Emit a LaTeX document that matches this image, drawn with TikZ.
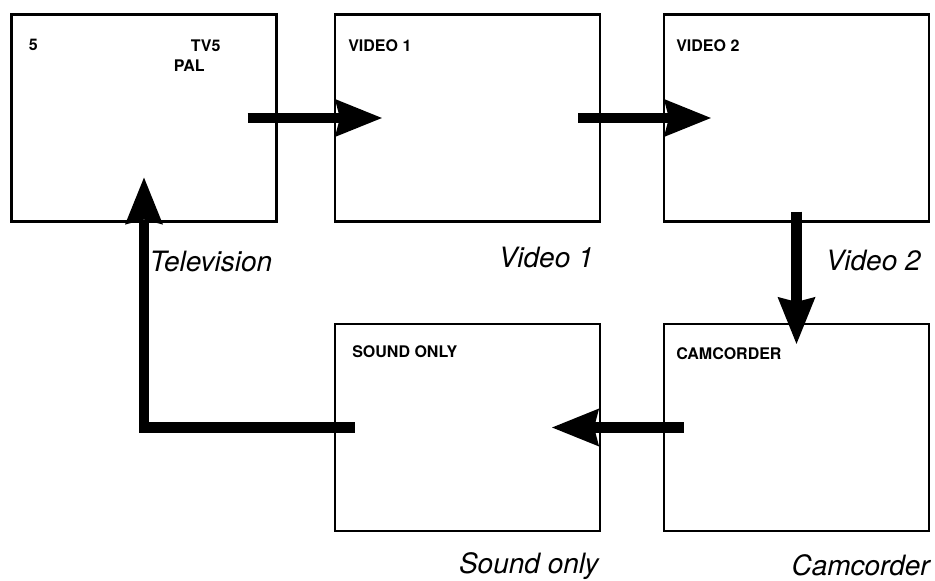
\documentclass[tikz,border=0pt]{standalone}
\usepackage{fontspec}
\setmainfont{TeX Gyre Heros}
\usetikzlibrary{arrows.meta}

\tikzset{
  screen/.style={draw, line width=1.1pt, minimum width=132.5pt, minimum height=103.5pt, inner sep=0pt},
  osd/.style={font=\bfseries\fontsize{8}{9}\selectfont, inner sep=0pt, anchor=west},
  caption/.style={font=\itshape\fontsize{14}{16}\selectfont, inner sep=0pt, anchor=east},
  feed/.style={line width=5.25pt, line join=miter,
    -{Stealth[length=23.5pt, width=19pt, inset=2.5pt, line width=0pt]}},
}

\begin{document}
\begin{tikzpicture}[x=0.5pt,y=-0.5pt]
  \useasboundingbox (0,0) rectangle (935,581);

  % the five screens
  \node[screen] (tel)   at (144,118)     {};
  \node[screen] (vid1)  at (467.5,118)   {};
  \node[screen] (vid2)  at (796.5,118)   {};
  \node[screen] (sound) at (467.5,427.5) {};
  \node[screen] (cam)   at (796.5,427.5) {};

  % on-screen texts
  \node[osd] (telnum) at ([shift={(18,32)}]tel.north west)  {5};
  \node[osd] (teltv)  at ([shift={(180,32)}]tel.north west) {TV5};
  \node[osd] (telpal) at ([shift={(163,52)}]tel.north west) {PAL};
  \node[osd] (vidonetext) at ([shift={(14,32)}]vid1.north west) {VIDEO 1};
  \node[osd] (vidtwotext) at ([shift={(13,32)}]vid2.north west) {VIDEO 2};
  \node[osd] (soundtext)  at ([shift={(18,29)}]sound.north west) {SOUND ONLY};
  \node[osd] (camtext)    at ([shift={(13,31)}]cam.north west)   {CAMCORDER};

  % captions
  \node[caption] (telcap)   at ([shift={(-5,39)}]tel.south east)   {Television};
  \node[caption] (vidonecap) at ([shift={(-7,35)}]vid1.south east) {Video 1};
  \node[caption] (vidtwocap) at ([shift={(-9,38)}]vid2.south east) {Video 2};
  \node[caption] (soundcap) at ([shift={(-2,34)}]sound.south east) {Sound only};
  \node[caption] (camcap)   at ([shift={(0,33)}]cam.south east)    {Camcorder};

  % the cycle
  \draw[feed] ([shift={(-30,0)}]tel.east) -- ([shift={(48,0)}]vid1.west);
  \draw[feed] ([shift={(-23,0)}]vid1.east) -- ([shift={(48,0)}]vid2.west);
  \draw[feed] ([shift={(0,-11)}]vid2.south) -- ([shift={(0,21)}]cam.north);
  \draw[feed] ([shift={(21,0)}]cam.west) -- ([shift={(-49,0)}]sound.east);
  \draw[feed] ([shift={(21,0)}]sound.west) -| ([shift={(0,-45)}]tel.south);
\end{tikzpicture}
\end{document}
